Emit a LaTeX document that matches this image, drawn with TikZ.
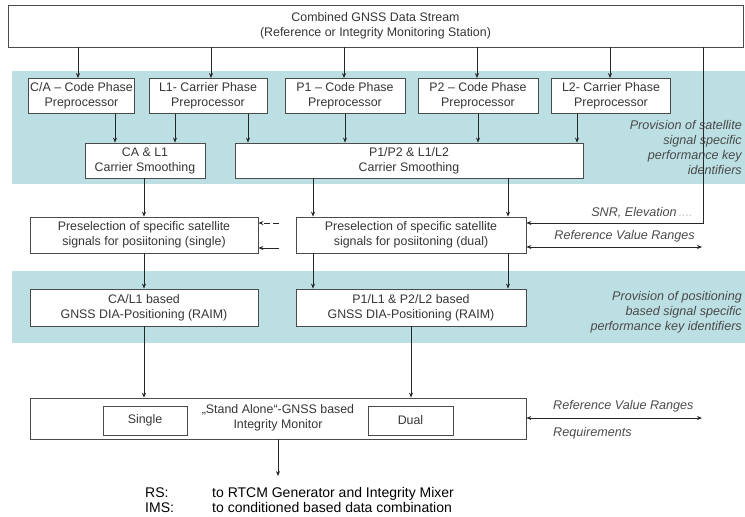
\documentclass[tikz,border=0pt]{standalone}
\usepackage{fontspec}
\setmainfont{Liberation Sans}
\usetikzlibrary{arrows.meta,calc}
\definecolor{bandcol}{HTML}{BCDFE3}
\definecolor{txt}{HTML}{363636}
\definecolor{edge}{HTML}{4A4A4A}
\begin{document}
\begin{tikzpicture}[x=1pt,y=-1pt,
  box/.style={draw=edge, line width=0.8pt, fill=white, text=txt, align=center, inner sep=0pt,
    font=\fontsize{12.4}{15}\selectfont},
  arr/.style={draw=black!85, line width=0.7pt, -{Stealth[length=5pt,width=4pt]}},
  darr/.style={draw=black!85, line width=0.7pt, {Stealth[length=5pt,width=4pt]}-{Stealth[length=5pt,width=4pt]}},
  note/.style={text=txt!90, font=\itshape\fontsize{12.6}{15}\selectfont, inner sep=0pt},
  plain/.style={text=black, font=\fontsize{14}{15}\selectfont, inner sep=0pt, anchor=base west},
]
\useasboundingbox (0,0) rectangle (745,517);
% bands
\fill[bandcol] (12,71) rectangle (745,184);
\fill[bandcol] (12,271) rectangle (745,343);

% top box
\node[box, minimum width=735, minimum height=42] (top) at (375.5,26)
  {Combined GNSS Data Stream\\(Reference or Integrity Monitoring Station)};

% preprocessors
\node[box, minimum width=106, minimum height=35] (ca) at (81.5,96) {C/A -- Code Phase\\Preprocessor};
\node[box, minimum width=118, minimum height=35] (l1) at (208,96) {L1- Carrier Phase\\Preprocessor};
\node[box, minimum width=120, minimum height=35] (p1) at (345,96) {P1 -- Code Phase\\Preprocessor};
\node[box, minimum width=120, minimum height=35] (p2) at (478,96) {P2 -- Code Phase\\Preprocessor};
\node[box, minimum width=119, minimum height=35] (l2) at (611,96) {L2- Carrier Phase\\Preprocessor};

\foreach \n/\x in {ca/78,l1/211,p1/344,p2/477,l2/610}
  \draw[arr] (top.south -| \x,0) -- (\n.north -| \x,0);

% smoothing
\node[box, minimum width=120, minimum height=35] (casm) at (145,160.5) {CA \& L1\\Carrier Smoothing};
\node[box, minimum width=348, minimum height=35] (psm) at (409,160.5) {P1/P2 \& L1/L2\\Carrier Smoothing};

\draw[arr] (ca.south -| 115,0) -- (casm.north -| 115,0);
\draw[arr] (l1.south -| 175,0) -- (casm.north -| 175,0);
\draw[arr] (l1.south -| 248,0) -- (psm.north -| 248,0);
\draw[arr] (p1.south) -- (psm.north -| p1.south);
\draw[arr] (p2.south) -- (psm.north -| p2.south);
\draw[arr] (l2.south -| 577,0) -- (psm.north -| 577,0);

\node[note, align=right, anchor=north east] (prov1) at (742,120)
  {Provision of satellite\\signal specific\\performance key\\identifiers};

% preselection
\node[box, minimum width=228, minimum height=36] (pres) at (144,235) {Preselection of specific satellite\\signals for posiitoning (single)};
\node[box, minimum width=230, minimum height=36] (pred) at (411,235) {Preselection of specific satellite\\signals for posiitoning (dual)};

\draw[arr] (casm.south -| pres.north) -- (pres.north);
\draw[arr] (psm.south -| 313,0) -- (pred.north -| 313,0);
\draw[arr] (psm.south -| 508,0) -- (pred.north -| 508,0);

\coordinate (g1) at (279,223);
\coordinate (g2) at (279,248);
\draw[arr, dashed, dash pattern=on 6pt off 3pt] (g1) -- (g1 -| pres.east);
\draw[arr] (g2) -- (g2 -| pres.east);

% SNR line
\coordinate (snrc) at (703,223);
\draw[arr] (top.south -| snrc) -- (snrc) -- (snrc -| pred.east);
\node[note, anchor=base east] (snr) at (693,216) {SNR, Elevation\textcolor{black!25}{\,....}};
\node[note, anchor=base east] (rvr1) at (695,239) {Reference Value Ranges};
\coordinate (rv1) at (702,247);
\draw[darr] (pred.east |- rv1) -- (rv1);

% RAIM
\node[box, minimum width=228, minimum height=37] (rais) at (144,307.5) {CA/L1 based\\GNSS DIA-Positioning (RAIM)};
\node[box, minimum width=230, minimum height=37] (raid) at (411,307.5) {P1/L1 \& P2/L2 based\\GNSS DIA-Positioning (RAIM)};

\draw[arr] (pres.south) -- (rais.north);
\draw[arr] (pred.south -| 313,0) -- (raid.north -| 313,0);
\draw[arr] (pred.south -| 508,0) -- (raid.north -| 508,0);

\node[note, align=right, anchor=north east] (prov2) at (742,291)
  {Provision of positioning\\based signal specific\\performance key identifiers};

% integrity monitor
\node[box, minimum width=496, minimum height=41] (mon) at (278,418.5) {};
\node[box, minimum width=84, minimum height=29] (single) at (145,420.5) {Single};
\node[box, minimum width=85, minimum height=29] (dual) at (410.5,420.5) {Dual};
\node[text=txt, align=center, inner sep=0pt, font=\fontsize{12.4}{15}\selectfont] (montxt) at (278,418)
  {\char"201E Stand Alone\char"201C-GNSS based\\Integrity Monitor};

\draw[arr] (rais.south) -- (mon.north -| rais.south);
\draw[arr] (raid.south) -- (mon.north -| raid.south);

\coordinate (rv2) at (702,418);
\draw[darr] (mon.east |- rv2) -- (rv2);
\node[note, anchor=base west] (rvr2) at (553,409) {Reference Value Ranges};
\node[note, anchor=base west] (req) at (553,436) {Requirements};

\coordinate (outp) at (278,476);
\draw[arr] (mon.south) -- (outp);

\node[plain] (rs) at (145,497) {RS:};
\node[plain] (rst) at (212,497) {to RTCM Generator and Integrity Mixer};
\node[plain] (ims) at (145,512) {IMS:};
\node[plain] (imst) at (212,512) {to conditioned based data combination};
\end{tikzpicture}
\end{document}
